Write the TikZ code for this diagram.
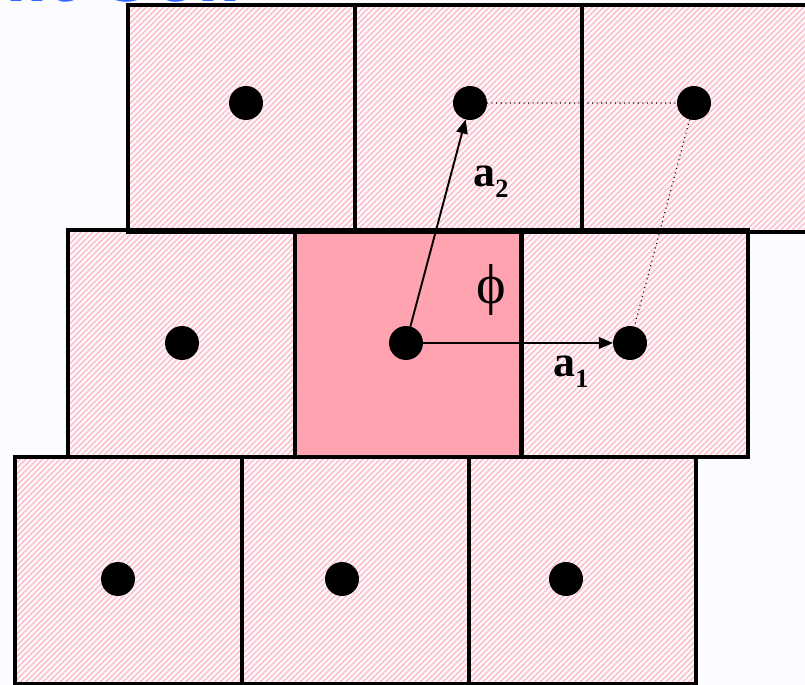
\documentclass[tikz,border=0pt]{standalone}
\usepackage{fontspec}
\setmainfont{Liberation Serif}
\setsansfont{Liberation Sans}
\usetikzlibrary{positioning,arrows.meta,patterns.meta}
\definecolor{ink}      {HTML}{000000}
\definecolor{hatch}    {HTML}{FFC0CA}
\definecolor{cellfill} {HTML}{FFA3B1}
\definecolor{paper}    {HTML}{FCFBFF}
\definecolor{titleblue}{HTML}{3366FF}
\newcommand{\lvec}[1]{\textbf{a}\raisebox{-6pt}{\fontsize{15}{15}\selectfont\bfseries #1}}
\tikzset{
  >={Triangle[length=8pt,width=6.5pt]},
  % --- cells
  box/.style   = {minimum width=4.54cm, minimum height=4.54cm,
                  inner sep=0pt, outer sep=0pt, anchor=north west},
  cell/.style  = {box, pattern={Lines[angle=45,distance=2.3pt,line width=0.9pt]}, pattern color=hatch},
  prim/.style  = {box, fill=cellfill},
  rim/.style   = {draw=ink, line width=1.8pt},
  atom/.style  = {circle, fill=ink, minimum size=0.68cm, inner sep=0pt, outer sep=0pt},
  % --- edges
  vec/.style   = {->, line width=1.1pt, draw=ink},
  link/.style  = {dotted, line width=0.6pt, draw=ink},
  lbl/.style   = {font=\fontsize{25}{25}\selectfont, inner sep=0pt},
}
\begin{document}
\begin{tikzpicture}[x=0.02cm,y=-0.02cm]
  \path[use as bounding box, fill=paper] (0,0) rectangle (805,685);
  \clip (0,0) rectangle (805,685);
  \node[anchor=base east, text=titleblue, inner sep=0pt,
        font=\fontsize{45}{45}\selectfont\sffamily\bfseries] (title) at (242,1.5) {Unit Cell};
  % cells, row by row
  \node[cell] (c11) at (128,5)   {};
  \node[cell] (c12) at (355,5)   {};
  \node[cell] (c13) at (582,5)   {};
  \node[cell] (c21) at (68,230)  {};
  \node[prim] (c22) at (295,230) {};
  \node[cell] (c23) at (521,230) {};
  \node[cell] (c31) at (15,457)  {};
  \node[cell] (c32) at (242,457) {};
  \node[cell] (c33) at (469,457) {};
  \foreach \c in {c11,c12,c13,c21,c22,c23,c31,c32,c33}
    \draw[rim] (\c.north west) rectangle (\c.south east);
  % lattice points
  \node[atom] (t1)  at (246,103) {};
  \node[atom] (p2)  at (470,103) {};
  \node[atom] (p12) at (694,103) {};
  \node[atom] (m1)  at (182,343) {};
  \node[atom] (o)   at (406,343) {};
  \node[atom] (p1)  at (630,343) {};
  \node[atom] (b1)  at (118,579) {};
  \node[atom] (b2)  at (342,579) {};
  \node[atom] (b3)  at (566,579) {};
  \draw[vec] (o) -- (p1);
  \draw[vec] (o) -- (p2);
  \draw[link] (p2) -- (p12) -- (p1);
  \node[lbl, anchor=base west] (la2) at (473,187) {\lvec{2}};
  \node[lbl, anchor=base west] (la1) at (553,377) {\lvec{1}};
  \node[lbl, font=\fontsize{32}{32}\selectfont] (phi) at (491,290) {\symbol{"03D5}};
\end{tikzpicture}
\end{document}
